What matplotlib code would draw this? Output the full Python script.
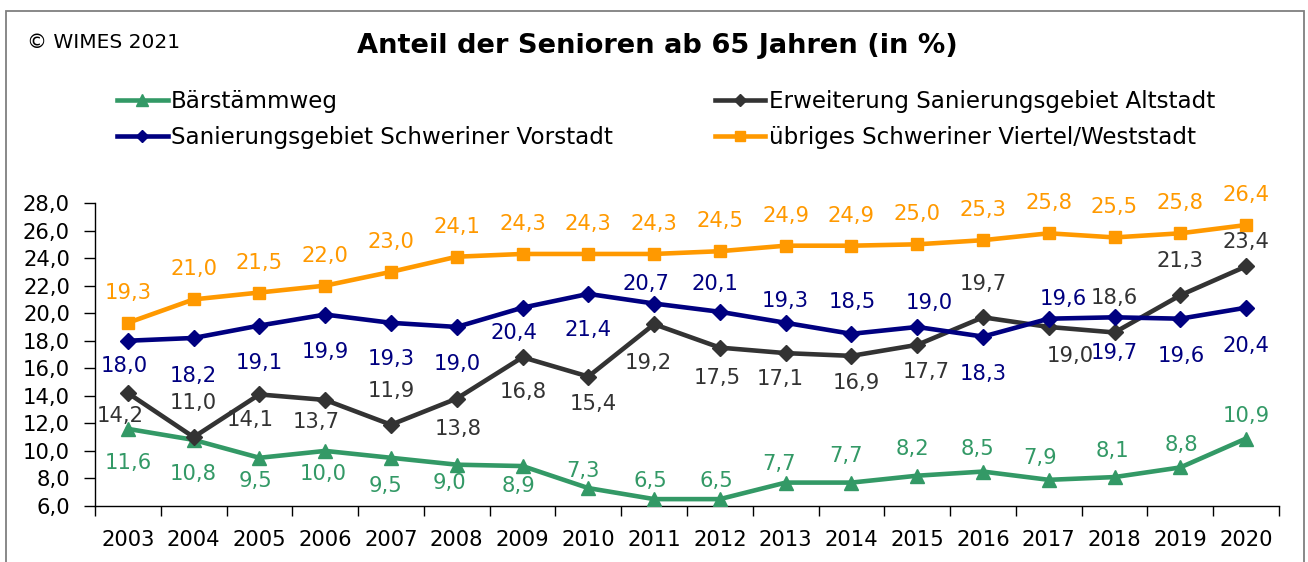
import matplotlib
matplotlib.use("Agg")
import matplotlib.pyplot as plt
from matplotlib.patches import Rectangle
from matplotlib.ticker import FixedLocator, FuncFormatter

plt.rcParams['font.family'] = ['DejaVu Sans']

# ---- data ----
years = [2003, 2004, 2005, 2006, 2007, 2008, 2009, 2010, 2011, 2012,
         2013, 2014, 2015, 2016, 2017, 2018, 2019, 2020]
baerstaemmweg = [11.6, 10.8, 9.5, 10.0, 9.5, 9.0, 8.9, 7.3, 6.5, 6.5,
                 7.7, 7.7, 8.2, 8.5, 7.9, 8.1, 8.8, 10.9]
vorstadt = [18.0, 18.2, 19.1, 19.9, 19.3, 19.0, 20.4, 21.4, 20.7, 20.1,
            19.3, 18.5, 19.0, 18.3, 19.6, 19.7, 19.6, 20.4]
altstadt = [14.2, 11.0, 14.1, 13.7, 11.9, 13.8, 16.8, 15.4, 19.2, 17.5,
            17.1, 16.9, 17.7, 19.7, 19.0, 18.6, 21.3, 23.4]
weststadt = [19.3, 21.0, 21.5, 22.0, 23.0, 24.1, 24.3, 24.3, 24.3, 24.5,
             24.9, 24.9, 25.0, 25.3, 25.8, 25.5, 25.8, 26.4]
series_names = ["Bärstämmweg", "Sanierungsgebiet Schweriner Vorstadt",
                "Erweiterung Sanierungsgebiet Altstadt",
                "übriges Schweriner Viertel/Weststadt"]
title = "Anteil der Senioren ab 65 Jahren (in %)"
credit = "© WIMES 2021"
y_ticks = [6, 8, 10, 12, 14, 16, 18, 20, 22, 24, 26, 28]

# ---- label offsets (pixels) ----
off_green = [(0, -34), (0, -34), (-4, -23), (-2, -23), (-5, -28), (-7, -18),
             (-4, -20), (-5, 17), (-4, 18), (-4, 18), (-7, 19), (-5, 27),
             (-5, 27), (-6, 23), (-9, 22), (-2, 26), (1, 22), (0, 23)]
off_navy = [(-4, -25), (0, -38), (0, -37), (0, -37), (0, -36), (0, -37),
            (-9, -25), (0, -36), (-8, 20), (-5, 28), (0, 22), (1, 32),
            (12, 24), (0, -37), (15, 20), (0, -36), (1, -37), (0, -38)]
off_dark = [(-8, -23), (0, 34), (-9, -26), (-9, -22), (0, 34), (1, -30),
            (1, -35), (5, -27), (-6, -39), (-3, -30), (-5, -26), (5, -27),
            (9, -27), (0, 33), (21, -29), (0, 34), (0, 34), (0, 24)]
off_orange = [(0, 30)] * len(years)

C_GREEN = "#339966"
C_NAVY = "#000080"
C_DARK = "#333333"
C_ORANGE = "#FF9900"

W, H = 1308, 562
fig = plt.figure(figsize=(W / 100, H / 100), dpi=100)
fig.patch.set_facecolor("white")

# outer frame
fig.add_artist(Rectangle((6 / W, -0.02), (1304 - 6) / W, 1 - 11 / H + 0.02,
                         transform=fig.transFigure, fill=False,
                         edgecolor="#7f7f7f", linewidth=1.3, clip_on=False))

ax = fig.add_axes([95 / W, 1 - 506 / H, (1279 - 95) / W, (506 - 203) / H])
x = list(range(len(years)))

lw = 3.3
l_green, = ax.plot(x, baerstaemmweg, color=C_GREEN, lw=lw, marker="^", ms=10,
                   label=series_names[0], zorder=3)
l_dark, = ax.plot(x, altstadt, color=C_DARK, lw=lw, marker="D", ms=8,
                  label=series_names[2], zorder=3)
l_navy, = ax.plot(x, vorstadt, color=C_NAVY, lw=lw, marker="D", ms=8,
                  label=series_names[1], zorder=4)
l_orange, = ax.plot(x, weststadt, color=C_ORANGE, lw=lw, marker="s", ms=8.5,
                    label=series_names[3], zorder=3)

def fmt(v):
    return f"{v:.1f}".replace(".", ",")

for vals, offs, col in [(baerstaemmweg, off_green, C_GREEN),
                        (vorstadt, off_navy, C_NAVY),
                        (altstadt, off_dark, C_DARK),
                        (weststadt, off_orange, C_ORANGE)]:
    for i, v in enumerate(vals):
        ax.annotate(fmt(v), (i, v), xytext=offs[i], textcoords="offset pixels",
                    ha="center", va="center", color=col, fontsize=15.2, zorder=5)

ax.set_xlim(-0.5, len(years) - 0.5)
ax.set_ylim(6, 28)
ax.set_yticks(y_ticks)
ax.yaxis.set_major_formatter(FuncFormatter(lambda v, p: fmt(v)))
ax.set_xticks(x)
ax.set_xticklabels([str(y) for y in years])
ax.xaxis.set_minor_locator(FixedLocator([i - 0.5 for i in range(len(years) + 1)]))
ax.tick_params(axis="x", which="major", length=0, pad=17, labelsize=15.2)
ax.tick_params(axis="x", which="minor", length=7, width=1, color="black", direction="out")
ax.tick_params(axis="y", which="major", length=8, width=1, pad=10, labelsize=15.2,
               direction="out")
for s in ["top", "right"]:
    ax.spines[s].set_visible(False)
for s in ["left", "bottom"]:
    ax.spines[s].set_color("black")
    ax.spines[s].set_linewidth(1)

fig.text(657.5 / W, 1 - 46 / H, title, ha="center", va="center",
         fontsize=19.6, fontweight="bold")
fig.text(27 / W, 1 - 43 / H, credit, ha="left", va="center", fontsize=14.5)

fig.legend(handles=[l_green, l_navy, l_dark, l_orange], ncol=2,
           loc="upper left", bbox_to_anchor=(117 / W, 1 - 90 / H),
           frameon=False, fontsize=16.6, borderaxespad=0, borderpad=0,
           handlelength=2.2, handletextpad=0.15, columnspacing=4.4,
           labelspacing=0.55, markerscale=0.8)

fig.savefig("out.png", dpi=100, facecolor="white")
